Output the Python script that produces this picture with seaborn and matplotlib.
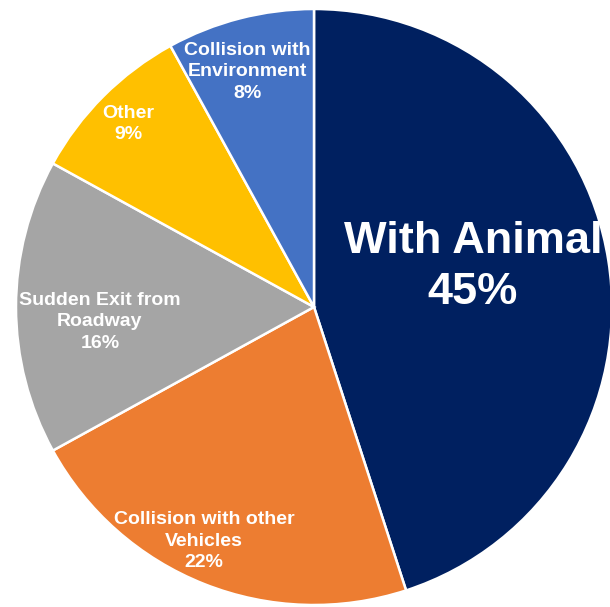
import matplotlib
matplotlib.use("Agg")
import matplotlib.pyplot as plt
import seaborn as sns

# Crash categories, clockwise from 12 o'clock
categories = ["With Animal", "Collision with other\nVehicles", "Sudden Exit from\nRoadway",
              "Other", "Collision with\nEnvironment"]
shares = [45, 22, 16, 9, 8]
palette = sns.color_palette(["#002060", "#ED7D31", "#A5A5A5", "#FFC000", "#4472C4"])

# label anchor points (pixel space) and font sizes
label_xy = [(473, 607 - 267), (204, 607 - 541), (100, 607 - 322), (128, 607 - 124), (247, 607 - 72)]
label_size = [32.5, 14, 14, 14, 14]

sns.set_style("white")
plt.rcParams["font.family"] = ["Liberation Sans", "DejaVu Sans"]

fig = plt.figure(figsize=(6.10, 6.07), dpi=100)
ax = fig.add_axes([0, 0, 1, 1])

ax.pie(shares, colors=palette, startangle=90, counterclock=False,
       center=(314, 607 - 307), radius=298,
       wedgeprops=dict(edgecolor="white", linewidth=1.8), frame=True)
ax.set_xlim(0, 610)
ax.set_ylim(0, 607)
ax.set_axis_off()

for name, val, (x, y), fs in zip(categories, shares, label_xy, label_size):
    ax.text(x, y, f"{name}\n{val}%", ha="center", va="center", color="white",
            fontsize=fs, fontweight="bold", linespacing=1.3 if fs > 20 else 1.33)

fig.savefig("out.png", dpi=100)
